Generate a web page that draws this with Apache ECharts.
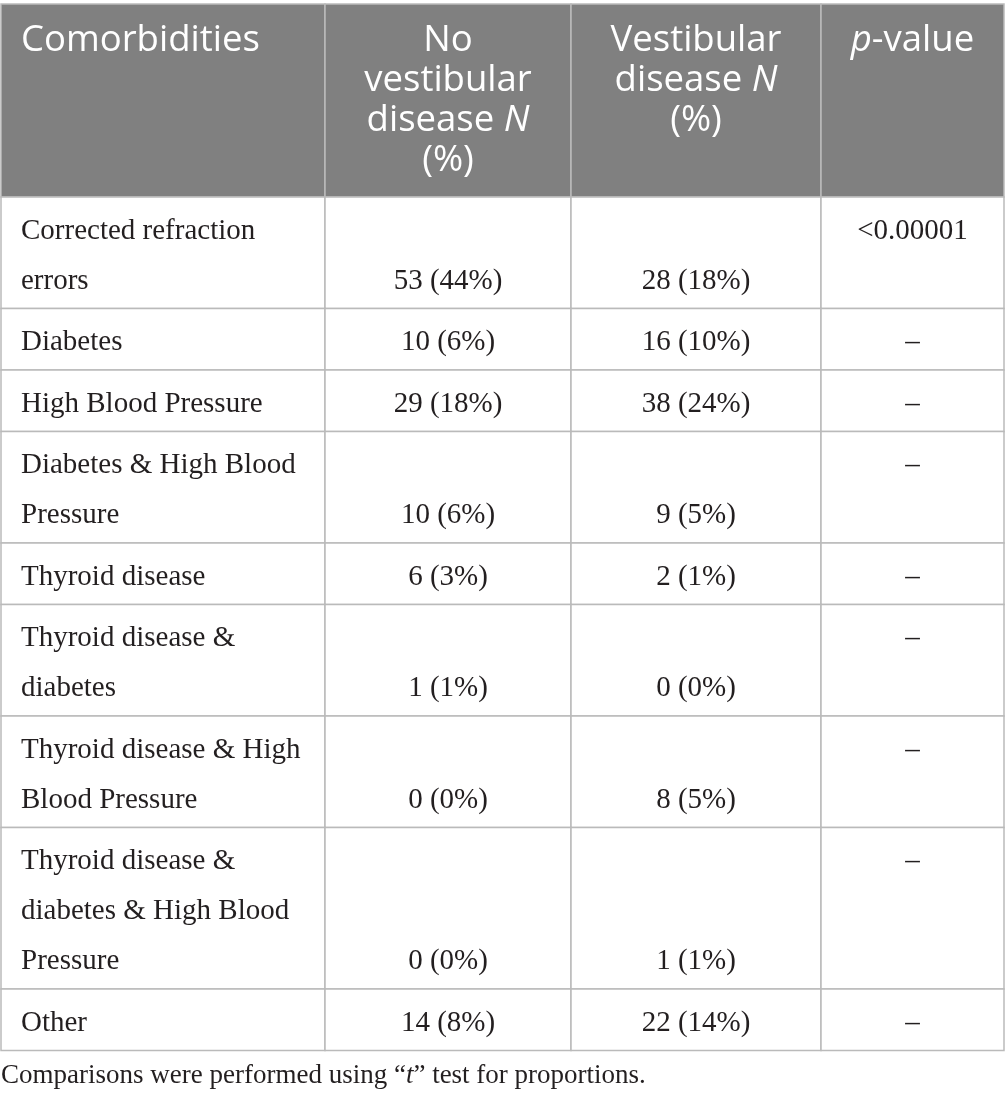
<!DOCTYPE html>
<html>
<head>
<meta charset="utf-8">
<script src="https://cdn.jsdelivr.net/npm/echarts@6/dist/echarts.min.js"></script>
<style>html,body{margin:0;padding:0;background:#fff;}#chart{width:1005px;height:1102px;}</style>
</head>
<body>
<div id="chart"></div>
<script>
// ---- data ----
const headers = ["Comorbidities", "No\nvestibular\ndisease {i|N}\n(%)", "Vestibular\ndisease {i|N}\n(%)", "{i|p}-value"];
const categories = [
  "Corrected refraction\nerrors",
  "Diabetes",
  "High Blood Pressure",
  "Diabetes & High Blood\nPressure",
  "Thyroid disease",
  "Thyroid disease &\ndiabetes",
  "Thyroid disease & High\nBlood Pressure",
  "Thyroid disease &\ndiabetes & High Blood\nPressure",
  "Other"
];
const noVestN   = [53, 10, 29, 10, 6, 1, 0, 0, 14];
const noVestPct = [44, 6, 18, 6, 3, 1, 0, 0, 8];
const vestN     = [28, 16, 38, 9, 2, 0, 8, 1, 22];
const vestPct   = [18, 10, 24, 5, 1, 0, 5, 1, 14];
const pValues   = ["<0.00001", "–", "–", "–", "–", "–", "–", "–", "–"];
const footnote  = "Comparisons were performed using “{i|t}” test for proportions.";

// ---- layout ----
const colEdges = [1, 325, 571, 821, 1004];
const headerTop = 4, headerBottom = 197;
const LINE = 50, HLINE = 40;
const rowTops = [headerTop, headerBottom];
categories.forEach(c => {
  const n = c.split('\n').length;
  rowTops.push(rowTops[rowTops.length - 1] + 11.5 + LINE * n);
});

const SERIF = '"Liberation Serif", "DejaVu Serif", serif';
const SANS = '"Open Sans", "Noto Sans", sans-serif';
const BODY_SIZE = 29, HEAD_SIZE = 36.5;
const TEXT = '#231f20';

const cells = [];
for (let r = 0; r <= categories.length; r++)
  for (let c = 0; c < 4; c++) cells.push([c, r]);

function cellText(c, r) {
  if (r === 0) return headers[c];
  const i = r - 1;
  if (c === 0) return categories[i];
  if (c === 1) return noVestN[i] + ' (' + noVestPct[i] + '%)';
  if (c === 2) return vestN[i] + ' (' + vestPct[i] + '%)';
  return pValues[i];
}

function renderItem(params, api) {
  const c = api.value(0), r = api.value(1);
  const p0 = api.coord([colEdges[c], rowTops[r]]);
  const p1 = api.coord([colEdges[c + 1], rowTops[r + 1]]);
  const isHead = r === 0;
  const children = [{
    type: 'rect',
    shape: { x: p0[0], y: p0[1], width: p1[0] - p0[0], height: p1[1] - p0[1] },
    style: { fill: isHead ? '#808080' : '#ffffff', stroke: '#bababa', lineWidth: 1.5 }
  }];
  const txt = cellText(c, r);
  const x = c === 0 ? p0[0] + 20 : (p0[0] + p1[0]) / 2;
  let y;
  if (isHead) {
    y = p0[1] + 37 - HLINE / 2;
  } else {
    const n = categories[r - 1].split('\n').length;
    const first = p0[1] + 34 - LINE / 2;
    if (c === 1 || c === 2) y = first + LINE * (n - 1);
    else y = first;
  }
  const lh = isHead ? HLINE : LINE;
  const fs = isHead ? HEAD_SIZE : BODY_SIZE;
  const ff = isHead ? SANS : SERIF;
  const color = isHead ? '#ffffff' : TEXT;
  children.push({
    type: 'text',
    style: {
      text: txt, x: x, y: y,
      align: c === 0 ? 'left' : 'center',
      verticalAlign: 'top',
      fontSize: fs, fontFamily: ff, lineHeight: lh, fill: color,
      rich: {
        i: { fontStyle: 'italic', fontSize: fs, fontFamily: ff, lineHeight: lh, fill: color }
      }
    }
  });
  return { type: 'group', children: children };
}

const chart = echarts.init(document.getElementById('chart'), null, { renderer: 'canvas' });
chart.setOption({
  animation: false,
  title: {
    text: footnote,
    left: -4, top: 1057,
    textStyle: {
      fontFamily: SERIF, fontSize: 27, fontWeight: 'normal', color: TEXT,
      rich: { i: { fontStyle: 'italic', fontFamily: SERIF, fontSize: 27, color: TEXT } }
    }
  },
  grid: { left: 0, right: 0, top: 0, bottom: 0 },
  xAxis: { type: 'value', min: 0, max: 1005, show: false },
  yAxis: { type: 'value', min: 0, max: 1102, inverse: true, show: false },
  series: [{
    type: 'custom',
    renderItem: renderItem,
    data: cells,
    clip: false
  }]
});
</script>
</body>
</html>
